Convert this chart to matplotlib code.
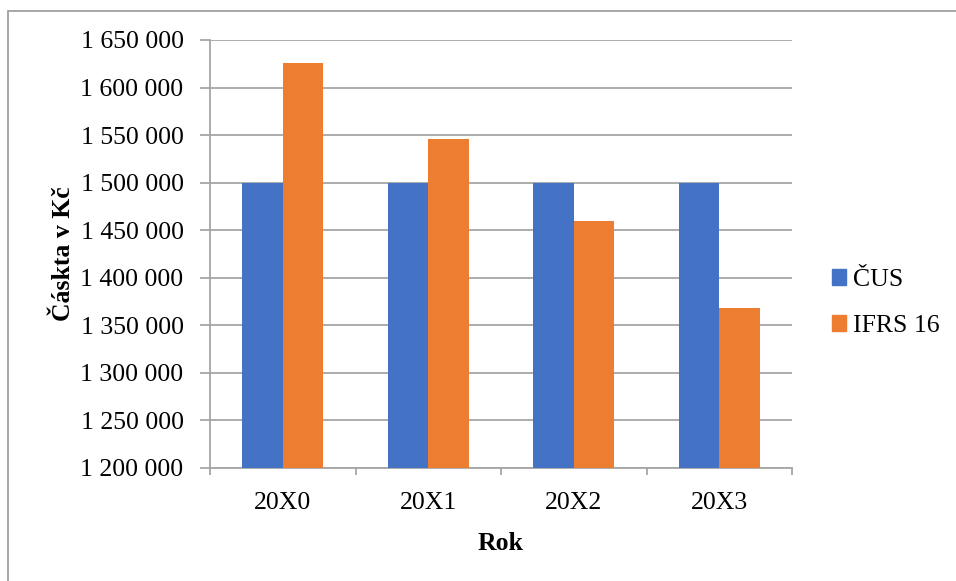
import matplotlib
matplotlib.use("Agg")
import matplotlib.pyplot as plt
from matplotlib.patches import Patch, Rectangle
from matplotlib.ticker import FuncFormatter, FixedLocator
import numpy as np

# Náklady podle ČUS a IFRS 16
roky = ["20X0", "20X1", "20X2", "20X3"]
cus = [1500000, 1500000, 1500000, 1500000]
ifrs16 = [1625600, 1545800, 1460200, 1368600]

BLUE = "#4472C4"
ORANGE = "#ED7D31"
GRID = "#A6A6A6"
FS = 18.5

plt.rcParams["font.family"] = ["Liberation Serif", "DejaVu Serif"]

fig = plt.figure(figsize=(9.56, 5.81), dpi=100)
ax = fig.add_axes([210 / 956, 1 - 468 / 581, 582 / 956, 428 / 581])

# rámeček grafu
fig.patches.append(Rectangle((8 / 956, -0.1), 1.2, 1 - 11 / 581 + 0.1,
                             transform=fig.transFigure, fill=False,
                             edgecolor="#A0A0A0", linewidth=1.3))

x = np.arange(len(roky))
w = 0.28
ax.bar(x - w / 2, cus, w, color=BLUE, zorder=3)
ax.bar(x + w / 2, ifrs16, w, color=ORANGE, zorder=3)

ax.set_xlim(-0.5, len(roky) - 0.5)
ax.set_ylim(1200000, 1650000)
ax.set_yticks(np.arange(1200000, 1650001, 50000))
ax.yaxis.set_major_formatter(FuncFormatter(lambda v, p: f"{int(v):,}".replace(",", " ")))
ax.grid(axis="y", color=GRID, linewidth=1.3, zorder=0)

ax.set_xticks(x)
ax.set_xticklabels(roky)
ax.xaxis.set_minor_locator(FixedLocator(np.arange(-0.5, len(roky), 1.0)))
ax.tick_params(axis="x", which="major", length=0, pad=17, labelsize=FS)
ax.tick_params(axis="x", which="minor", length=5, color=GRID, width=1.3)
ax.tick_params(axis="y", length=7, color=GRID, width=1.3, pad=12, labelsize=FS)

for s in ["top", "right"]:
    ax.spines[s].set_visible(False)
for s in ["left", "bottom"]:
    ax.spines[s].set_color(GRID)
    ax.spines[s].set_linewidth(1.3)

ax.set_xlabel("Rok", fontsize=FS, fontweight="bold", labelpad=13)
ax.set_ylabel("Čáskta v Kč", fontsize=FS, fontweight="bold", labelpad=4)

handles = [Patch(color=BLUE, label="ČUS"), Patch(color=ORANGE, label="IFRS 16")]
fig.legend(handles=handles, loc="center left", bbox_to_anchor=(832 / 956, 1 - 303 / 581),
           frameon=False, fontsize=FS, handlelength=0.56, handleheight=0.56,
           handletextpad=0.25, labelspacing=0.95, borderaxespad=0, borderpad=0)

fig.savefig("out.png", dpi=100)
